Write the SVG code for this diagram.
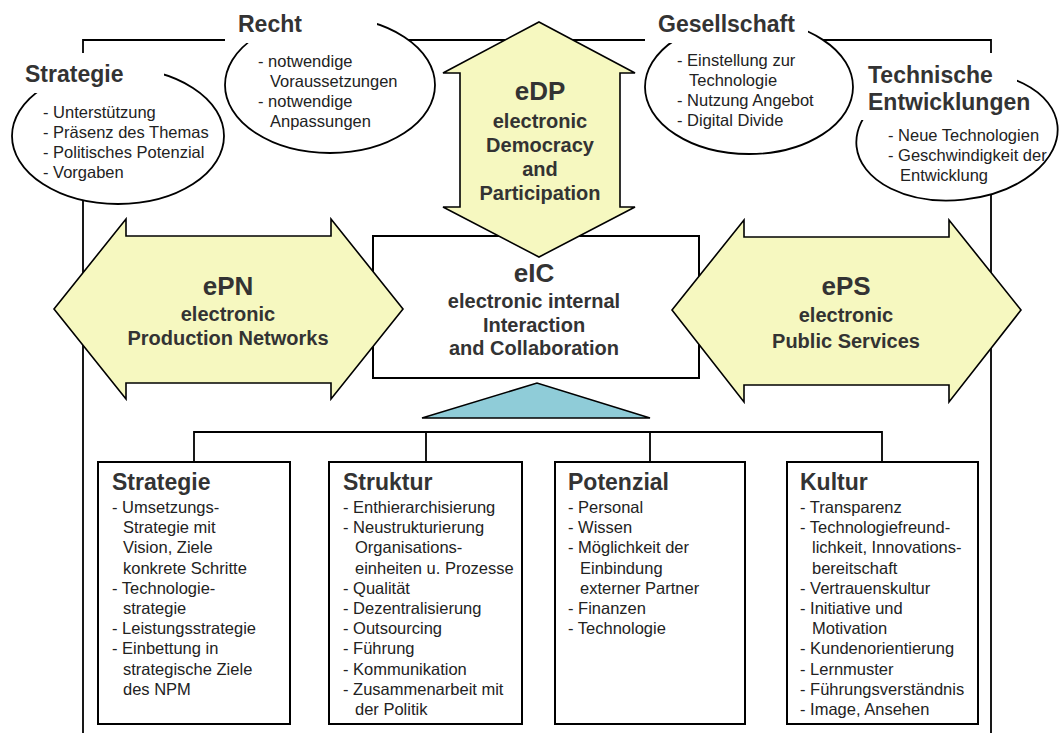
<svg xmlns="http://www.w3.org/2000/svg" width="1060" height="733" viewBox="0 0 1060 733">
<style>
text{font-family:"Liberation Sans",Arial,sans-serif;fill:#333}
.h{font-size:23px;font-weight:bold}
.big{font-size:26px;font-weight:bold;text-anchor:middle}
.sub{font-size:20px;font-weight:bold;text-anchor:middle}
.li{font-size:16.5px;fill:#222}
.ell{fill:#fff;stroke:#000;stroke-width:1.8}
.bg{fill:#fff;stroke:none}
.arrow{fill:#F6F8C0;stroke:#000;stroke-width:1.6}
.box{fill:#fff;stroke:#000;stroke-width:2}
.line{fill:none;stroke:#000;stroke-width:1.8}
</style>
<rect width="1060" height="733" fill="#fff"/>
<g id="frame">
<path class="line" d="M83,733 V40 H991 V733"/>
</g>
<g id="connectors">
<path class="line" d="M194,462 V432 H882 V462 M426,432 V462 M650,432 V462"/>
</g>
<g id="ctx-strategie">
<ellipse class="ell" cx="118" cy="136" rx="106" ry="68"/>
<rect class="bg" x="18" y="53" width="146" height="40"/>
<text class="h" x="25" y="82">Strategie</text>
<text class="li" x="43" y="118">- Unterstützung</text>
<text class="li" x="43" y="138">- Präsenz des Themas</text>
<text class="li" x="43" y="158">- Politisches Potenzial</text>
<text class="li" x="43" y="178">- Vorgaben</text>
</g>
<g id="ctx-recht">
<ellipse class="ell" cx="330" cy="85" rx="105" ry="68"/>
<rect class="bg" x="225" y="0" width="152" height="43"/>
<text class="h" x="238" y="32">Recht</text>
<text class="li" x="258" y="67">- notwendige</text>
<text class="li" x="270" y="87">Voraussetzungen</text>
<text class="li" x="258" y="107">- notwendige</text>
<text class="li" x="270" y="127">Anpassungen</text>
</g>
<g id="ctx-gesellschaft">
<ellipse class="ell" cx="749" cy="87" rx="104" ry="67"/>
<rect class="bg" x="645" y="0" width="163" height="43"/>
<text class="h" x="658" y="32">Gesellschaft</text>
<text class="li" x="677" y="66">- Einstellung zur</text>
<text class="li" x="689" y="86">Technologie</text>
<text class="li" x="677" y="106">- Nutzung Angebot</text>
<text class="li" x="677" y="126">- Digital Divide</text>
</g>
<g id="ctx-technik">
<ellipse class="ell" cx="957" cy="136" rx="101" ry="64" transform="rotate(-6 957 136)"/>
<rect class="bg" x="858" y="53" width="159" height="67"/>
<text class="h" x="868" y="83">Technische</text>
<text class="h" x="868" y="110">Entwicklungen</text>
<text class="li" x="888" y="141">- Neue Technologien</text>
<text class="li" x="888" y="161">- Geschwindigkeit der</text>
<text class="li" x="900" y="181">Entwicklung</text>
</g>
<g id="eIC">
<rect class="box" x="373" y="236" width="326" height="142"/>
<text class="big" x="534" y="282">eIC</text>
<text class="sub" x="534" y="308">electronic internal</text>
<text class="sub" x="534" y="332">Interaction</text>
<text class="sub" x="534" y="355">and Collaboration</text>
</g>
<g id="eDP">
<polygon class="arrow" points="539,22 635,73 620,73 620,207 635,207 539,257 443,207 460,207 460,73 443,73"/>
<text class="big" x="540" y="100">eDP</text>
<text class="sub" x="540" y="128">electronic</text>
<text class="sub" x="540" y="152">Democracy</text>
<text class="sub" x="540" y="176">and</text>
<text class="sub" x="540" y="200">Participation</text>
</g>
<g id="ePN">
<polygon class="arrow" points="54,309 126,219 126,236 331,236 331,219 403,309 331,399 331,383 126,383 126,399"/>
<text class="big" x="228" y="295">ePN</text>
<text class="sub" x="228" y="321">electronic</text>
<text class="sub" x="228" y="345">Production Networks</text>
</g>
<g id="ePS">
<polygon class="arrow" points="672,310 744,220 744,237 949,237 949,220 1021,310 949,402 949,385 744,385 744,402"/>
<text class="big" x="846" y="295">ePS</text>
<text class="sub" x="846" y="322">electronic</text>
<text class="sub" x="846" y="348">Public Services</text>
</g>
<g id="base">
<polygon points="422,418 537,383 650,418" fill="#8FCCD8" stroke="#000" stroke-width="1.6"/>
</g>
<g id="box-strategie">
<rect class="box" x="98" y="462" width="192" height="262"/>
<text class="h" x="112" y="490">Strategie</text>
<text class="li" x="112" y="513">- Umsetzungs-</text>
<text class="li" x="123" y="533.2">Strategie mit</text>
<text class="li" x="123" y="553.4">Vision, Ziele</text>
<text class="li" x="123" y="573.6">konkrete Schritte</text>
<text class="li" x="112" y="593.8">- Technologie-</text>
<text class="li" x="123" y="614">strategie</text>
<text class="li" x="112" y="634.2">- Leistungsstrategie</text>
<text class="li" x="112" y="654.4">- Einbettung in</text>
<text class="li" x="123" y="674.6">strategische Ziele</text>
<text class="li" x="123" y="694.8">des NPM</text>
</g>
<g id="box-struktur">
<rect class="box" x="329" y="462" width="193" height="262"/>
<text class="h" x="343" y="490">Struktur</text>
<text class="li" x="343" y="513">- Enthierarchisierung</text>
<text class="li" x="343" y="533.2">- Neustrukturierung</text>
<text class="li" x="355" y="553.4">Organisations-</text>
<text class="li" x="355" y="573.6">einheiten u. Prozesse</text>
<text class="li" x="343" y="593.8">- Qualität</text>
<text class="li" x="343" y="614">- Dezentralisierung</text>
<text class="li" x="343" y="634.2">- Outsourcing</text>
<text class="li" x="343" y="654.4">- Führung</text>
<text class="li" x="343" y="674.6">- Kommunikation</text>
<text class="li" x="343" y="694.8">- Zusammenarbeit mit</text>
<text class="li" x="355" y="715">der Politik</text>
</g>
<g id="box-potenzial">
<rect class="box" x="555" y="462" width="190" height="262"/>
<text class="h" x="568" y="490">Potenzial</text>
<text class="li" x="568" y="513">- Personal</text>
<text class="li" x="568" y="533.2">- Wissen</text>
<text class="li" x="568" y="553.4">- Möglichkeit der</text>
<text class="li" x="580" y="573.6">Einbindung</text>
<text class="li" x="580" y="593.8">externer Partner</text>
<text class="li" x="568" y="614">- Finanzen</text>
<text class="li" x="568" y="634.2">- Technologie</text>
</g>
<g id="box-kultur">
<rect class="box" x="787" y="462" width="191" height="262"/>
<text class="h" x="800" y="490">Kultur</text>
<text class="li" x="800" y="513">- Transparenz</text>
<text class="li" x="800" y="533.2">- Technologiefreund-</text>
<text class="li" x="812" y="553.4">lichkeit, Innovations-</text>
<text class="li" x="812" y="573.6">bereitschaft</text>
<text class="li" x="800" y="593.8">- Vertrauenskultur</text>
<text class="li" x="800" y="614">- Initiative und</text>
<text class="li" x="812" y="634.2">Motivation</text>
<text class="li" x="800" y="654.4">- Kundenorientierung</text>
<text class="li" x="800" y="674.6">- Lernmuster</text>
<text class="li" x="800" y="694.8">- Führungsverständnis</text>
<text class="li" x="800" y="715">- Image, Ansehen</text>
</g>
</svg>
